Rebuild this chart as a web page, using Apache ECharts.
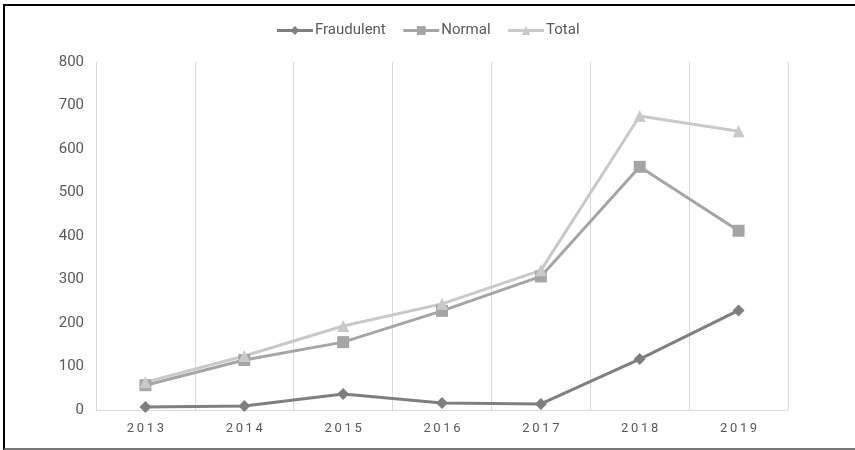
<!DOCTYPE html>
<html>
<head>
<meta charset="utf-8">
<script src="https://cdn.jsdelivr.net/npm/echarts@6/dist/echarts.min.js"></script>
<style>
html,body{margin:0;padding:0;background:#fff;overflow:hidden;}
#frame{position:absolute;left:3px;top:4px;width:870px;height:446px;border-left:2px solid #000;border-top:2px solid #000;border-bottom:2px solid #777;box-sizing:border-box;}
#chart{position:absolute;left:0;top:0;width:855px;height:450px;}
</style>
</head>
<body>
<div id="frame"></div>
<div id="chart"></div>
<script>
const years = ['2013','2014','2015','2016','2017','2018','2019'];
const fraudulent = [7, 9, 37, 16, 14, 117, 229];
const normal = [57, 115, 156, 228, 307, 559, 412];
const total = [64, 124, 193, 244, 321, 676, 641];
const yTicks = {min: 0, max: 800, interval: 100};

const chart = echarts.init(document.getElementById('chart'), null, {renderer: 'canvas'});
const font = 'Roboto, "Noto Sans", sans-serif';
chart.setOption({
  animation: false,
  backgroundColor: 'transparent',
  legend: {
    top: 18,
    left: 'center',
    itemWidth: 36,
    itemHeight: 11,
    itemGap: 16,
    lineStyle: {width: 3},
    textStyle: {color: '#595959', fontSize: 15, fontFamily: font, padding: [0, 0, 0, -3]},
    data: ['Fraudulent', 'Normal', 'Total']
  },
  grid: {left: 96, right: 67, top: 62, bottom: 40},
  xAxis: {
    type: 'category',
    data: years,
    boundaryGap: true,
    axisLine: {lineStyle: {color: '#d9d9d9', width: 1}},
    axisTick: {show: false},
    splitLine: {show: true, lineStyle: {color: '#d9d9d9', width: 1}},
    axisLabel: {color: '#595959', fontSize: 13, fontFamily: font, margin: 12,
      formatter: v => v.split('').join('\u2009')}
  },
  yAxis: {
    type: 'value',
    min: yTicks.min, max: yTicks.max, interval: yTicks.interval,
    axisLine: {show: false},
    axisTick: {show: false},
    splitLine: {show: false},
    axisLabel: {color: '#595959', fontSize: 15, fontFamily: font, margin: 12}
  },
  series: [
    {name: 'Fraudulent', type: 'line', data: fraudulent, symbol: 'diamond', symbolSize: 12,
     lineStyle: {color: '#7f7f7f', width: 3}, itemStyle: {color: '#7f7f7f'}},
    {name: 'Normal', type: 'line', data: normal, symbol: 'rect', symbolSize: 12,
     lineStyle: {color: '#a5a5a5', width: 3}, itemStyle: {color: '#a5a5a5'}},
    {name: 'Total', type: 'line', data: total, symbol: 'triangle', symbolSize: 12,
     lineStyle: {color: '#c9c9c9', width: 3}, itemStyle: {color: '#c9c9c9'}}
  ]
});
</script>
</body>
</html>
